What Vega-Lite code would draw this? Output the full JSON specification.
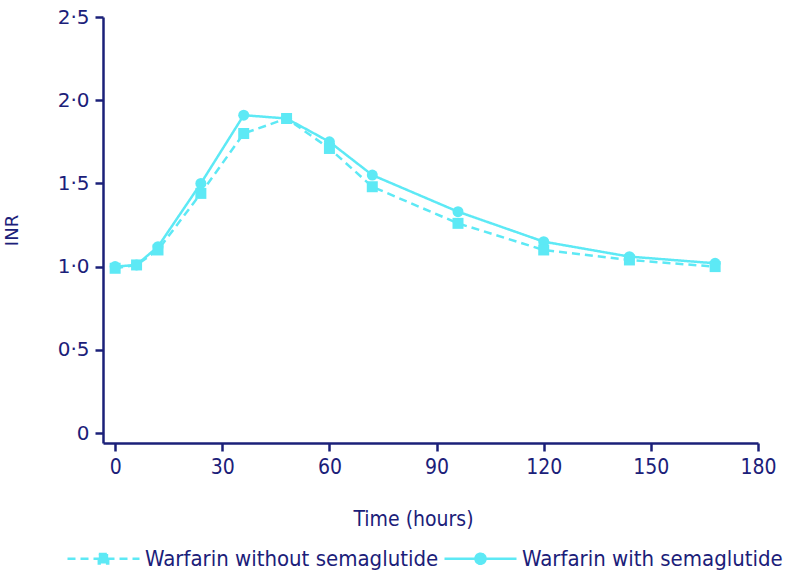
{
  "$schema": "https://vega.github.io/schema/vega-lite/v6.json",
  "width": 655,
  "height": 426,
  "autosize": {"type": "none"},
  "padding": {"left": 103, "top": 17, "right": 28, "bottom": 131},
  "background": "white",
  "data": {
    "values": [
      {"time": 0, "inr": 0.99, "group": "Warfarin without semaglutide"},
      {"time": 6, "inr": 1.01, "group": "Warfarin without semaglutide"},
      {"time": 12, "inr": 1.10, "group": "Warfarin without semaglutide"},
      {"time": 24, "inr": 1.44, "group": "Warfarin without semaglutide"},
      {"time": 36, "inr": 1.80, "group": "Warfarin without semaglutide"},
      {"time": 48, "inr": 1.89, "group": "Warfarin without semaglutide"},
      {"time": 60, "inr": 1.71, "group": "Warfarin without semaglutide"},
      {"time": 72, "inr": 1.48, "group": "Warfarin without semaglutide"},
      {"time": 96, "inr": 1.26, "group": "Warfarin without semaglutide"},
      {"time": 120, "inr": 1.10, "group": "Warfarin without semaglutide"},
      {"time": 144, "inr": 1.04, "group": "Warfarin without semaglutide"},
      {"time": 168, "inr": 1.00, "group": "Warfarin without semaglutide"},
      {"time": 0, "inr": 1.00, "group": "Warfarin with semaglutide"},
      {"time": 6, "inr": 1.01, "group": "Warfarin with semaglutide"},
      {"time": 12, "inr": 1.12, "group": "Warfarin with semaglutide"},
      {"time": 24, "inr": 1.50, "group": "Warfarin with semaglutide"},
      {"time": 36, "inr": 1.91, "group": "Warfarin with semaglutide"},
      {"time": 48, "inr": 1.89, "group": "Warfarin with semaglutide"},
      {"time": 60, "inr": 1.75, "group": "Warfarin with semaglutide"},
      {"time": 72, "inr": 1.55, "group": "Warfarin with semaglutide"},
      {"time": 96, "inr": 1.33, "group": "Warfarin with semaglutide"},
      {"time": 120, "inr": 1.15, "group": "Warfarin with semaglutide"},
      {"time": 144, "inr": 1.06, "group": "Warfarin with semaglutide"},
      {"time": 168, "inr": 1.02, "group": "Warfarin with semaglutide"}
    ]
  },
  "config": {
    "view": {"stroke": null},
    "axis": {
      "grid": false,
      "domainColor": "#1b2079",
      "domainWidth": 2.5,
      "tickColor": "#1b2079",
      "tickWidth": 2.5,
      "tickSize": 8,
      "labelColor": "#1b2079",
      "titleColor": "#1b2079",
      "titleFontWeight": "normal"
    }
  },
  "encoding": {
    "x": {
      "field": "time",
      "type": "quantitative",
      "scale": {"domain": [-3.4, 180], "nice": false, "zero": false},
      "axis": {
        "values": [0, 30, 60, 90, 120, 150, 180],
        "title": "Time (hours)",
        "titleFont": "DejaVu Sans Condensed, Liberation Sans",
        "titleFontSize": 21,
        "titleX": 310,
        "titlePadding": 31,
        "labelFont": "DejaVu Sans Condensed, Liberation Sans",
        "labelFontSize": 21,
        "labelPadding": 5,
        "labelFlush": false
      }
    },
    "y": {
      "field": "inr",
      "type": "quantitative",
      "scale": {"domain": [-0.06, 2.5], "nice": false, "zero": false},
      "axis": {
        "values": [0, 0.5, 1, 1.5, 2, 2.5],
        "labelExpr": "datum.value == 0 ? '0' : replace(format(datum.value, '.1f'), '.', '·')",
        "title": "INR",
        "titleFont": "DejaVu Sans",
        "titleFontSize": 18,
        "titlePadding": 36,
        "labelFont": "DejaVu Sans",
        "labelFontSize": 20,
        "labelPadding": 6,
        "labelFlush": false
      }
    }
  },
  "layer": [
    {
      "mark": {"type": "line", "strokeWidth": 2.5},
      "encoding": {
        "color": {
          "field": "group",
          "type": "nominal",
          "scale": {
            "domain": ["Warfarin without semaglutide", "Warfarin with semaglutide"],
            "range": ["#5de9f5", "#5de9f5"]
          },
          "legend": {
            "orient": "none",
            "direction": "horizontal",
            "legendX": -37,
            "legendY": 504,
            "title": null,
            "padding": 0,
            "columnPadding": 0,
            "symbolSize": 5184,
            "symbolStrokeWidth": 2.5,
            "labelFont": "DejaVu Sans Condensed, Liberation Sans",
            "labelFontSize": 22,
            "labelColor": "#1b2079",
            "labelOffset": 4,
            "labelLimit": 400,
            "encode": {
              "symbols": {
                "update": {
                  "shape": {"signal": "datum.value === 'Warfarin without semaglutide' ? 'M-1,0H1M-0.13,-0.13H0.13V0.13H-0.13Z' : 'M-1,0H1M-0.14,0A0.14,0.14,0,1,0,0.14,0A0.14,0.14,0,1,0,-0.14,0Z'"},
                  "fill": {"value": "#5de9f5"},
                  "stroke": {"value": "#5de9f5"}
                }
              }
            }
          }
        },
        "strokeDash": {
          "field": "group",
          "type": "nominal",
          "scale": {
            "domain": ["Warfarin without semaglutide", "Warfarin with semaglutide"],
            "range": [[8, 5], [1, 0]]
          }
        }
      }
    },
    {
      "transform": [{"filter": "datum.group === 'Warfarin with semaglutide'"}],
      "mark": {"type": "point", "filled": true, "opacity": 1, "size": 121, "shape": "circle", "color": "#5de9f5"}
    },
    {
      "transform": [{"filter": "datum.group === 'Warfarin without semaglutide'"}],
      "mark": {"type": "point", "filled": true, "opacity": 1, "size": 121, "shape": "square", "color": "#5de9f5"}
    }
  ]
}
